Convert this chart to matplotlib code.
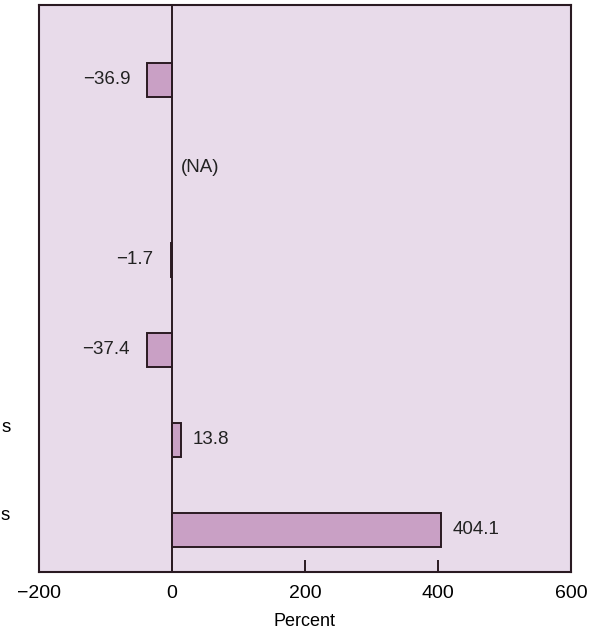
import matplotlib
matplotlib.use("Agg")
import matplotlib.pyplot as plt
import numpy as np

# data (top to bottom); None = not available
values = [-36.9, None, -1.7, -37.4, 13.8, 404.1]
value_text = ["\u221236.9", "(NA)", "\u22121.7", "\u221237.4", "13.8", "404.1"]
xticks = [-200, 0, 200, 400, 600]
xtick_labels = ["\u2212200", "0", "200", "400", "600"]

plt.rcParams["font.family"] = ["Liberation Sans", "DejaVu Sans"]

bg = "#e8dbea"
bar_col = "#c9a0c5"
edge = "#2a1a22"

fig = plt.figure(figsize=(6.03, 6.35), dpi=100)
ax = fig.add_axes([0.0647, 0.0992, 0.882, 0.8928])
ax.set_facecolor(bg)

for i, v in enumerate(values):
    if v is None:
        ax.text(14, i - 0.03, value_text[i], ha="left", va="center", fontsize=13.5, color="#222222")
        continue
    ax.barh(i, v, height=0.38, color=bar_col, edgecolor=edge, linewidth=1.4, zorder=2)
    if v < 0:
        ax.text(v - 26, i, value_text[i], ha="right", va="center", fontsize=13.5, color="#222222")
    else:
        ax.text(v + 18, i, value_text[i], ha="left", va="center", fontsize=13.5, color="#222222")

ax.axvline(0, color=edge, linewidth=1.4, zorder=3)

ax.set_xlim(-200, 600)
ax.set_ylim(5.47, -0.83)
ax.set_yticks([])
ax.set_xticks(xticks)
ax.set_xticklabels(xtick_labels, fontsize=14)
ax.tick_params(axis="x", direction="in", length=9, width=1.4, pad=9, color=edge)
for s in ax.spines.values():
    s.set_linewidth(1.5)
    s.set_color(edge)
ax.set_xlabel("Percent", fontsize=13, labelpad=8)

# category labels cut off at the left edge of the page, only their last letters show
fig.text(0.002, 1 - 428 / 635, "s", fontsize=13.5, ha="left", va="center")
fig.text(0.001, 1 - 515 / 635, "s", fontsize=13.5, ha="left", va="center")

fig.savefig("out.png", dpi=100)
